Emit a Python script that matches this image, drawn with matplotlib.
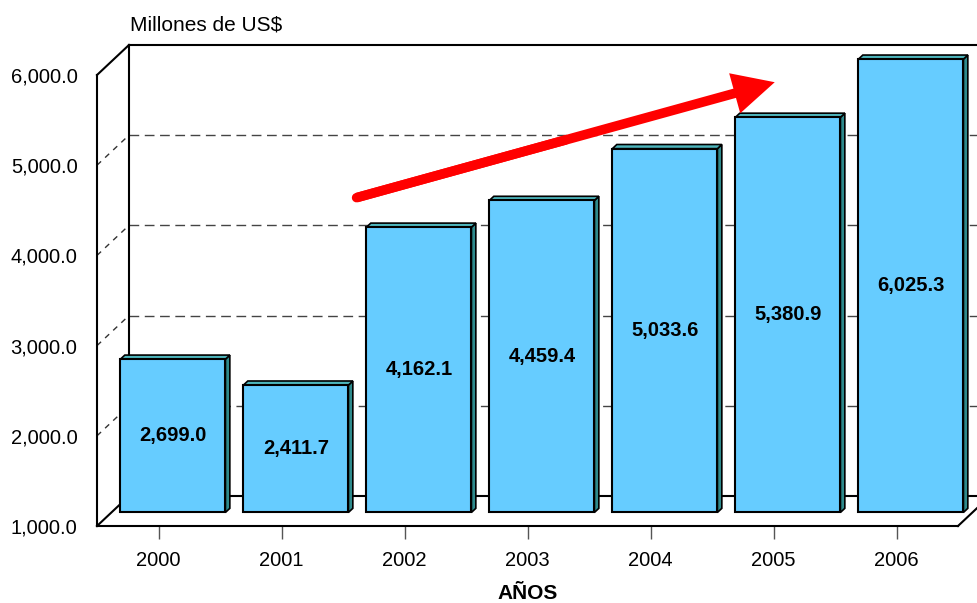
import numpy as np
import matplotlib
matplotlib.use('Agg')
import matplotlib.pyplot as plt
from matplotlib.patches import Rectangle, Polygon

plt.rcParams['font.family'] = ['Liberation Sans', 'DejaVu Sans']

# <============DATA============>#

years = ['2000', '2001', '2002', '2003', '2004', '2005', '2006']
values = [2699.0, 2411.7, 4162.1, 4459.4, 5033.6, 5380.9, 6025.3]
value_labels = ['2,699.0', '2,411.7', '4,162.1', '4,459.4', '5,033.6', '5,380.9', '6,025.3']
y_ticks = [1000, 2000, 3000, 4000, 5000, 6000]
y_tick_labels = ['1,000.0', '2,000.0', '3,000.0', '4,000.0', '5,000.0', '6,000.0']
arrow_tail = (2.11, 4640)
arrow_tip = (5.51, 5920)

# <============3D LOOK============>#

y_base = 1000
depth_x = 0.26      # back wall offset along x (category units)
depth_y = 333       # back wall offset along y (value units)
bar_pos = 0.45      # bars sit this far into the depth
bar_w = 0.854
side_x = 0.036
side_y = 46

front_col = '#66CCFF'
side_col = '#2E8A8C'
top_col = '#4DB5BC'

fig = plt.figure(figsize=(9.77, 6.03), dpi=100)
ax = fig.add_axes([97 / 977, 77 / 603, 861 / 977, 451 / 603])
ax.set_xlim(0, 7)
ax.set_ylim(1000, 6000)

n = len(values)
x0 = depth_x
y0 = depth_y

# walls and floor outline
ax.plot([x0, 7.6], [6000 + y0, 6000 + y0], color='black', lw=1.5, clip_on=False, zorder=2)
ax.plot([x0, x0], [y_base + y0, 6000 + y0], color='black', lw=1.5, clip_on=False, zorder=2)
ax.plot([0, x0], [6000, 6000 + y0], color='black', lw=1.5, clip_on=False, zorder=2)
ax.plot([0, x0], [y_base, y_base + y0], color='black', lw=1.5, clip_on=False, zorder=2)
ax.plot([x0, 7.6], [y_base + y0, y_base + y0], color='black', lw=1.5, clip_on=False, zorder=2)
ax.plot([7, 7 + x0], [y_base, y_base + y0], color='black', lw=1.5, clip_on=False, zorder=2)

# dashed gridlines on back and side walls
for t in y_ticks[1:-1]:
    ax.plot([x0, 7.6], [t + y0, t + y0], color='#444444', lw=1, ls=(0, (7, 4)),
            clip_on=False, zorder=1)
    ax.plot([0, x0], [t, t + y0], color='#333333', lw=1, ls=(0, (4, 4)),
            clip_on=False, zorder=1)

# bars
for i, v in enumerate(values):
    left = i + 0.5 - bar_w / 2 + bar_pos * depth_x
    bottom = y_base + bar_pos * depth_y
    top = v + bar_pos * depth_y
    right = left + bar_w
    ax.add_patch(Polygon([(right, bottom), (right + side_x, bottom + side_y),
                          (right + side_x, top + side_y), (right, top)],
                         closed=True, facecolor=side_col, edgecolor='black',
                         lw=1.2, zorder=3, clip_on=False))
    ax.add_patch(Polygon([(left, top), (right, top), (right + side_x, top + side_y),
                          (left + side_x, top + side_y)],
                         closed=True, facecolor=top_col, edgecolor='black',
                         lw=1.2, zorder=3, clip_on=False))
    ax.add_patch(Rectangle((left, bottom), bar_w, top - bottom, facecolor=front_col,
                           edgecolor='black', lw=1.5, zorder=4, clip_on=False))
    ax.text(left + bar_w / 2, (bottom + top) / 2, value_labels[i], ha='center',
            va='center', fontsize=14.5, fontweight='bold', zorder=5)

# trend arrow (round tail + filled head)
mid = ((arrow_tail[0] + arrow_tip[0]) / 2, (arrow_tail[1] + arrow_tip[1]) / 2)
ax.plot([arrow_tail[0], mid[0]], [arrow_tail[1], mid[1]], color='#FF0000', lw=6.8,
        solid_capstyle='round', zorder=6, clip_on=False)
ax.annotate('', xy=arrow_tip, xytext=arrow_tail,
            arrowprops=dict(arrowstyle='simple,head_length=1.3,head_width=1.3,tail_width=0.3',
                            mutation_scale=23, color='#FF0000', lw=0,
                            shrinkA=0, shrinkB=0),
            zorder=6, annotation_clip=False)

# axes
ax.set_xticks(np.arange(n) + 0.5)
ax.set_xticklabels(years, fontsize=14.5)
ax.set_yticks(y_ticks)
ax.set_yticklabels(y_tick_labels, fontsize=14.5)
ax.tick_params(axis='x', length=9, width=1, color='#555555', pad=9)
ax.tick_params(axis='y', length=0, pad=14)
for side in ['top', 'right']:
    ax.spines[side].set_visible(False)
for side in ['left', 'bottom']:
    ax.spines[side].set_linewidth(1.5)
ax.set_facecolor('none')
ax.set_xlabel('AÑOS', fontsize=15, fontweight='bold', labelpad=10)

fig.text(130 / 977, 1 - 25 / 603, 'Millones de US$', fontsize=15, va='center', ha='left')

fig.savefig('out.png', dpi=100)
